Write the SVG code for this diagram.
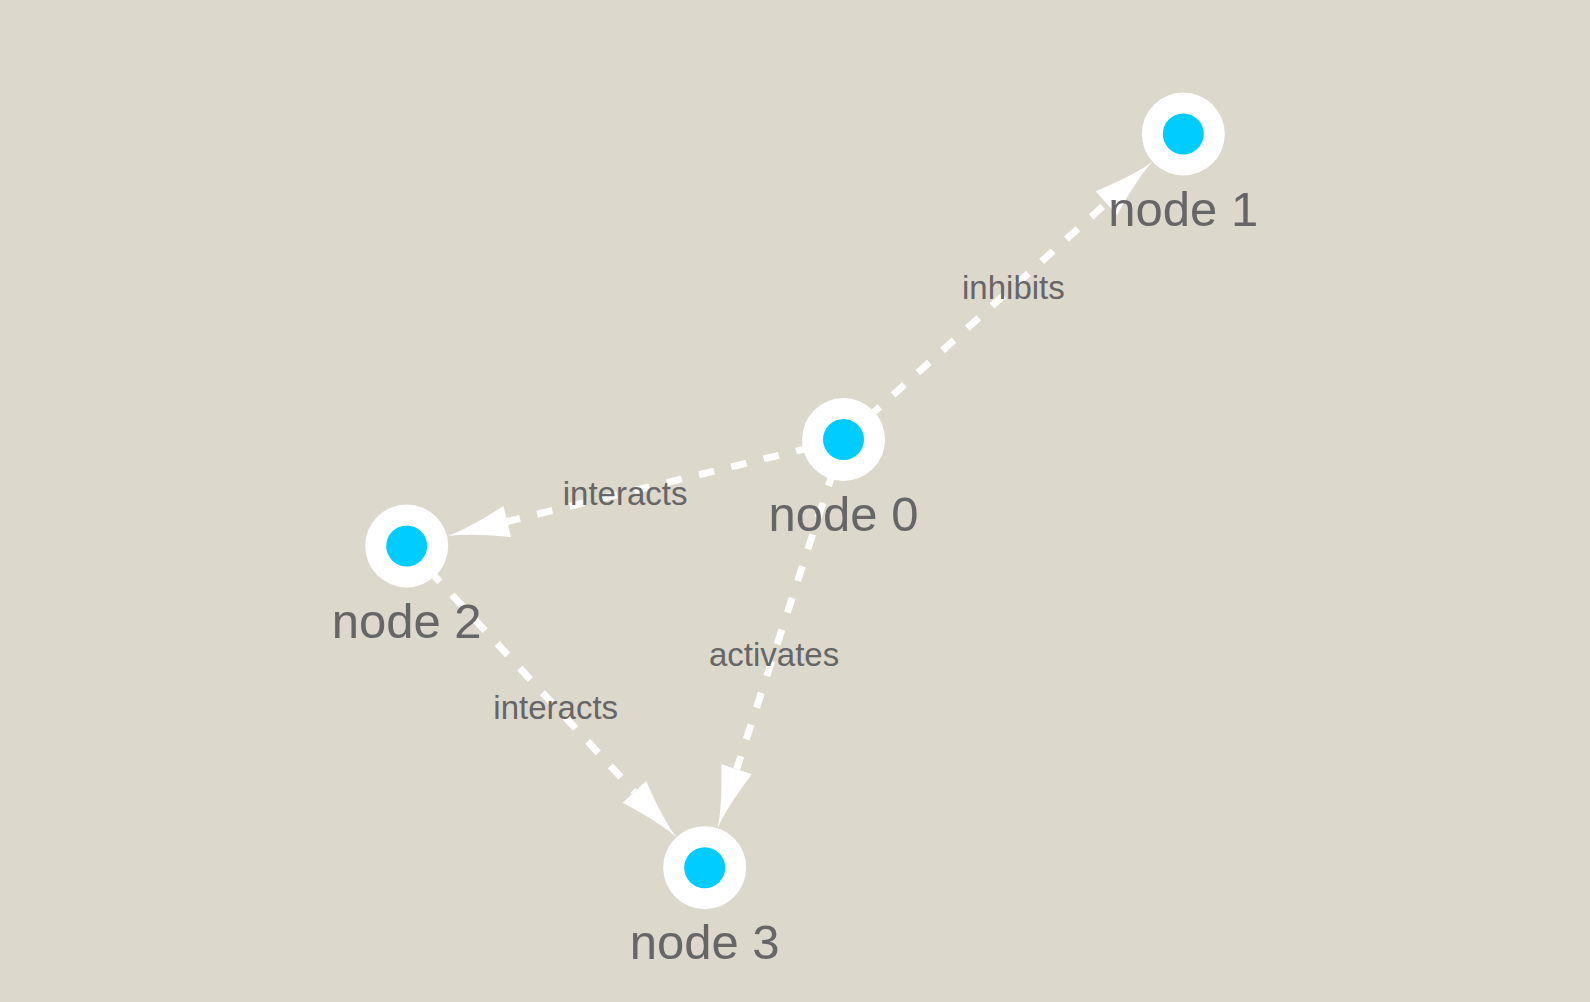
<svg xmlns="http://www.w3.org/2000/svg" width="1590" height="1002" viewBox="0 0 1590 1002">
<style>
.edge{stroke:#ffffff;stroke-width:7;stroke-dasharray:15.5 17.8;fill:none;stroke-linecap:butt}
.arrow{fill:#ffffff}
.ring{fill:#ffffff}
.core{fill:#00ccff}
.nlabel{font-family:"Liberation Sans",Arial,Helvetica,sans-serif;font-size:49px;fill:#666666;text-anchor:middle}
.elabel{font-family:"Liberation Sans",Arial,Helvetica,sans-serif;font-size:33px;fill:#666666;text-anchor:middle}
</style>
<defs>
<path id="ah" d="M0,0 Q22,2 62,16 L62,-16 Q22,-2 0,0 Z"/>
</defs>
<rect width="1590" height="1002" fill="#ddd8cc"/>
<g id="connectors">
<g id="e01">
<line class="edge" x1="843.5" y1="439.5" x2="1106.3" y2="203.2"/>
<use href="#ah" class="arrow" transform="translate(1152.4,161.75) rotate(138.04)"/>
</g>
<g id="e02">
<line class="edge" x1="843.5" y1="439.5" x2="507.25" y2="521.5"/>
<use href="#ah" class="arrow" transform="translate(447,536.2) rotate(-13.7)"/>
</g>
<g id="e03">
<line class="edge" x1="843.5" y1="439.5" x2="736.6" y2="769.2"/>
<use href="#ah" class="arrow" transform="translate(717.5,828.2) rotate(-72.04)"/>
</g>
<g id="e23">
<line class="edge" x1="406.7" y1="546" x2="634.4" y2="791.8"/>
<use href="#ah" class="arrow" transform="translate(676.5,837.3) rotate(-132.8)"/>
</g>
</g>
<g id="node0"><circle class="ring" cx="843.5" cy="439.5" r="41.5"/><circle class="core" cx="843.5" cy="439.5" r="20.5"/></g>
<g id="node1"><circle class="ring" cx="1183.3" cy="134" r="41.5"/><circle class="core" cx="1183.3" cy="134" r="20.5"/></g>
<g id="node2"><circle class="ring" cx="406.7" cy="546" r="41.5"/><circle class="core" cx="406.7" cy="546" r="20.5"/></g>
<g id="node3"><circle class="ring" cx="704.7" cy="867.7" r="41.5"/><circle class="core" cx="704.7" cy="867.7" r="20.5"/></g>
<g id="labels">
<text class="elabel" x="1013.4" y="299.3">inhibits</text>
<text class="elabel" x="625.1" y="505.3">interacts</text>
<text class="elabel" x="774.1" y="666">activates</text>
<text class="elabel" x="555.7" y="719.4">interacts</text>
<text class="nlabel" x="843.5" y="531">node 0</text>
<text class="nlabel" x="1183.3" y="225.5">node 1</text>
<text class="nlabel" x="406.7" y="637.5">node 2</text>
<text class="nlabel" x="704.7" y="959.2">node 3</text>
</g>
</svg>
